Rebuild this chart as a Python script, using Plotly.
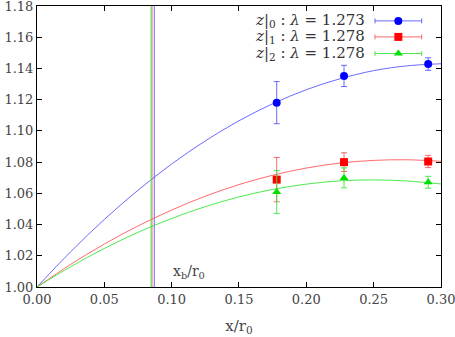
import plotly.graph_objects as go

# measured points (x/r0, ratio, error)
x_pts = [0.178, 0.228, 0.2905]
blue_y = [1.1181, 1.1352, 1.1428]
blue_err = [0.0135, 0.0068, 0.0040]
red_y = [1.0688, 1.0800, 1.0804]
red_err = [0.0142, 0.0060, 0.0039]
green_y = [1.0608, 1.0699, 1.0671]
green_err = [0.0138, 0.0064, 0.0038]

# fitted curves
curve_x = [0.0, 0.025, 0.05, 0.075, 0.10, 0.125, 0.15, 0.175, 0.20, 0.225, 0.25, 0.275, 0.30]
blue_curve = [1.0, 1.0226, 1.0433, 1.0620, 1.0788, 1.0936, 1.1065, 1.1174, 1.1264, 1.1334, 1.1386, 1.1417, 1.1430]
red_curve = [1.0, 1.0145, 1.0275, 1.0391, 1.0493, 1.0582, 1.0656, 1.0716, 1.0762, 1.0794, 1.0811, 1.0815, 1.0805]
green_curve = [1.0, 1.0130, 1.0247, 1.0350, 1.0439, 1.0515, 1.0577, 1.0625, 1.0659, 1.0680, 1.0686, 1.0679, 1.0660]

# x_b/r0 positions
xb = {"blue": 0.0871, "red": 0.0854, "green": 0.0847}

labels = ["<i>z</i>|<sub>0</sub> : <i>λ</i> = 1.273",
          "<i>z</i>|<sub>1</sub> : <i>λ</i> = 1.278",
          "<i>z</i>|<sub>2</sub> : <i>λ</i> = 1.278"]

FONT = "DejaVu Serif"
cols = {"blue": "#0000ff", "red": "#ff0000", "green": "#00e000"}
light = {"blue": "rgba(80,80,255,0.85)", "red": "rgba(255,80,80,0.85)", "green": "rgba(60,230,60,0.9)"}
symbols = {"blue": "circle", "red": "square", "green": "triangle-up"}
msize = {"blue": 8, "red": 8, "green": 8}

series = [("blue", blue_y, blue_err, blue_curve),
          ("red", red_y, red_err, red_curve),
          ("green", green_y, green_err, green_curve)]

fig = go.Figure()

for name, ys, errs, curve in series:
    fig.add_trace(go.Scatter(x=curve_x, y=curve, mode="lines", line=dict(color=light[name], width=1, shape="spline"),
                             hoverinfo="skip"))
    fig.add_trace(go.Scatter(x=[xb[name], xb[name]], y=[1.0, 1.18], mode="lines",
                             line=dict(color=light[name], width=1), hoverinfo="skip"))

for name, ys, errs, curve in series:
    fig.add_trace(go.Scatter(x=x_pts, y=ys, mode="markers",
                             marker=dict(color=cols[name], symbol=symbols[name], size=msize[name]),
                             error_y=dict(type="data", array=errs, color=light[name], thickness=1, width=3)))

# custom legend: text on the left, sample with error bar on the right
rows = [0.947, 0.890, 0.831]
for (name, ys, errs, curve), lab, ry in zip(series, labels, rows):
    fig.add_trace(go.Scatter(x=[0.8944], y=[ry], xaxis="x2", yaxis="y2", mode="markers",
                             marker=dict(color=cols[name], symbol=symbols[name], size=msize[name]),
                             error_x=dict(type="constant", value=0.0578, color=light[name], thickness=1, width=2.5)))
    fig.add_annotation(x=0.817, y=ry, xref="paper", yref="paper", text=lab, showarrow=False,
                       xanchor="right", yanchor="middle", font=dict(family=FONT, size=15, color="#333"))

fig.add_annotation(x=0.0995, y=1.0097, text="x<sub>b</sub>/r<sub>0</sub>", showarrow=False,
                   xanchor="left", yanchor="middle", font=dict(family=FONT, size=14, color="#444"))

axis_common = dict(showline=True, linecolor="black", linewidth=1, mirror="ticks", ticks="inside",
                   ticklen=5, tickcolor="black", showgrid=False, zeroline=False, automargin=False,
                   ticklabeloverflow="allow",
                   tickfont=dict(family=FONT, size=13, color="#444"), tickformat=".2f")

fig.update_layout(
    width=455, height=337,
    margin=dict(l=37, r=14, t=6, b=50),
    plot_bgcolor="white", paper_bgcolor="white",
    font=dict(family=FONT),
    showlegend=False,
    xaxis=dict(range=[0, 0.30001], dtick=0.05, tick0=0,
               title=dict(text="x/r<sub>0</sub>", font=dict(family=FONT, size=15, color="#444"), standoff=14),
               **axis_common),
    yaxis=dict(range=[1.0, 1.18001], dtick=0.02, tick0=1.0, **axis_common),
    xaxis2=dict(overlaying="x", range=[0, 1], visible=False),
    yaxis2=dict(overlaying="y", range=[0, 1], visible=False),
)

fig.write_html("out.html", config={"displayModeBar": False},
               post_script="document.body.style.margin='0';")
